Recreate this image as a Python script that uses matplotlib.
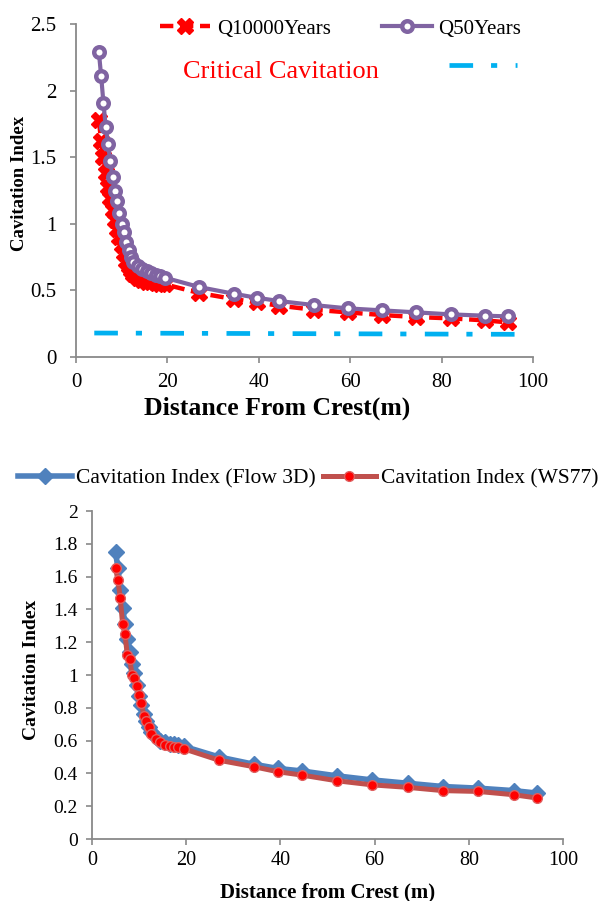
import matplotlib
matplotlib.use("Agg")
import matplotlib.pyplot as plt

# distance from crest (m), shared by all series
dist = [5.0, 5.5, 6.0, 6.5, 7.0, 7.5, 8.0, 8.5, 9.0, 9.5, 10.0, 10.5, 11.0, 11.5,
        12.0, 12.5, 13.5, 14.5, 15.5, 16.5, 17.5, 18.3, 19.5, 27.0, 34.5, 39.5,
        44.5, 52.0, 59.5, 67.0, 74.5, 82.0, 89.5, 94.5]

# top chart
q10000 = [1.78, 1.62, 1.50, 1.38, 1.28, 1.19, 1.10, 1.03, 0.96, 0.90, 0.84, 0.78,
          0.72, 0.68, 0.65, 0.62, 0.59, 0.575, 0.565, 0.56, 0.555, 0.55, 0.545,
          0.48, 0.435, 0.41, 0.385, 0.355, 0.335, 0.315, 0.30, 0.29, 0.275, 0.26]
q50 = [2.29, 2.11, 1.91, 1.73, 1.60, 1.47, 1.35, 1.25, 1.17, 1.08, 1.00, 0.94,
       0.86, 0.80, 0.75, 0.71, 0.68, 0.66, 0.645, 0.63, 0.615, 0.605, 0.595,
       0.525, 0.475, 0.445, 0.42, 0.39, 0.365, 0.35, 0.335, 0.32, 0.31, 0.305]
crit_x = [4.0, 99.0]
crit_y = [0.18, 0.17]

# bottom chart
flow3d = [1.75, 1.65, 1.52, 1.41, 1.31, 1.22, 1.14, 1.07, 1.01, 0.94, 0.87, 0.82,
          0.76, 0.72, 0.68, 0.65, 0.62, 0.60, 0.59, 0.58, 0.58, 0.575, 0.565,
          0.50, 0.455, 0.43, 0.415, 0.385, 0.36, 0.34, 0.32, 0.31, 0.295, 0.28]
ws77 = [1.65, 1.58, 1.47, 1.31, 1.25, 1.12, 1.10, 1.00, 0.98, 0.93, 0.88, 0.83,
        0.75, 0.72, 0.68, 0.64, 0.61, 0.59, 0.575, 0.565, 0.56, 0.56, 0.55,
        0.48, 0.44, 0.41, 0.39, 0.355, 0.33, 0.315, 0.295, 0.29, 0.27, 0.25]

plt.rcParams["font.family"] = ["Liberation Serif", "DejaVu Serif"]
AX_GRAY = "#898989"
CYAN = "#00B0F0"
crit_style = (0, (5.0, 3.8, 1.3, 3.9))

fig = plt.figure(figsize=(5.98, 9.01), dpi=100)


def style_axes(ax, fs_x, fs_y, xpad):
    for s in ("top", "right"):
        ax.spines[s].set_visible(False)
    for s in ("left", "bottom"):
        ax.spines[s].set_color(AX_GRAY)
        ax.spines[s].set_linewidth(1.3)
    ax.tick_params(axis="both", direction="out", length=4.3, width=1.2, color=AX_GRAY)
    ax.tick_params(axis="x", labelsize=fs_x, pad=xpad)
    ax.tick_params(axis="y", labelsize=fs_y, pad=10)


# ---- top chart ----
ax1 = fig.add_axes([76 / 598, 1 - 357 / 901, 457 / 598, 333 / 901])
ax1.plot(crit_x, crit_y, color=CYAN, lw=3.4, linestyle=crit_style,
         dash_capstyle="butt", zorder=2)
ax1.plot(dist, q10000, color="#FF0000", lw=3.2, linestyle=(0, (3, 1.5)),
         marker="X", ms=12, mec="#FF0000", mfc="#FF0000", label="Q10000Years", zorder=3)
ax1.plot(dist, q50, color="#8064A2", lw=3.0, marker="o", ms=7.6, mew=3.2,
         mec="#8064A2", mfc="white", label="Q50Years", zorder=4)
ax1.set_xlim(0, 100)
ax1.set_ylim(0, 2.5)
ax1.set_xticks([0, 20, 40, 60, 80, 100])
ax1.set_yticks([0, 0.5, 1, 1.5, 2, 2.5])
ax1.set_yticklabels(["0", "0.5", "1", "1.5", "2", "2.5"])
style_axes(ax1, 15, 15, 7)
ax1.set_xlabel("Distance From Crest(m)", fontsize=18.5, fontweight="bold")
ax1.xaxis.set_label_coords(0.44, -0.118)
ax1.set_ylabel("Cavitation Index", fontsize=13.5, fontweight="bold")
ax1.yaxis.set_label_coords(-0.106, 0.521)
ax1.legend(loc="center", bbox_to_anchor=(0.579, 0.985), ncol=2, frameon=False,
           fontsize=15, handlelength=2.4, handletextpad=0.3, columnspacing=2.45,
           borderaxespad=0)
ax1.text(0.234, 0.856, "Critical Cavitation", transform=ax1.transAxes,
         color="#FF0000", fontsize=19, va="center", ha="left")
ax1.plot([0.816, 0.965], [0.877, 0.877], transform=ax1.transAxes, color=CYAN,
         lw=3.4, linestyle=crit_style, dash_capstyle="butt", clip_on=False)

# ---- bottom chart ----
ax2 = fig.add_axes([92 / 598, 1 - 839 / 901, 471 / 598, 328 / 901])
ax2.plot(dist, flow3d, color="#4F81BD", lw=4.0, marker="D", ms=8, mec="#4F81BD",
         mfc="#4F81BD", label="Cavitation Index (Flow 3D)", zorder=3)
ax2.plot(dist, ws77, color="#C0504D", lw=3.6, marker="o", ms=7, mew=1,
         mec="#E06060", mfc="#FF0000", label="Cavitation Index (WS77)", zorder=4)
ax2.set_xlim(0, 100)
ax2.set_ylim(0, 2)
ax2.set_xticks([0, 20, 40, 60, 80, 100])
ax2.set_yticks([0, 0.2, 0.4, 0.6, 0.8, 1, 1.2, 1.4, 1.6, 1.8, 2])
ax2.set_yticklabels(["0", "0.2", "0.4", "0.6", "0.8", "1", "1.2", "1.4", "1.6", "1.8", "2"])
style_axes(ax2, 14.5, 14, 4)
ax2.tick_params(axis="y", pad=6)
ax2.set_xlabel("Distance from Crest (m)", fontsize=15, fontweight="bold", labelpad=9)
ax2.set_ylabel("Cavitation Index", fontsize=14, fontweight="bold")
ax2.yaxis.set_label_coords(-0.11, 0.515)
ax2.legend(loc="center", bbox_to_anchor=(0.459, 1.10), ncol=2, frameon=False,
           fontsize=15.5, handlelength=2.5, handletextpad=0.2, columnspacing=0.3,
           borderaxespad=0)

fig.savefig("out.png", dpi=100)
